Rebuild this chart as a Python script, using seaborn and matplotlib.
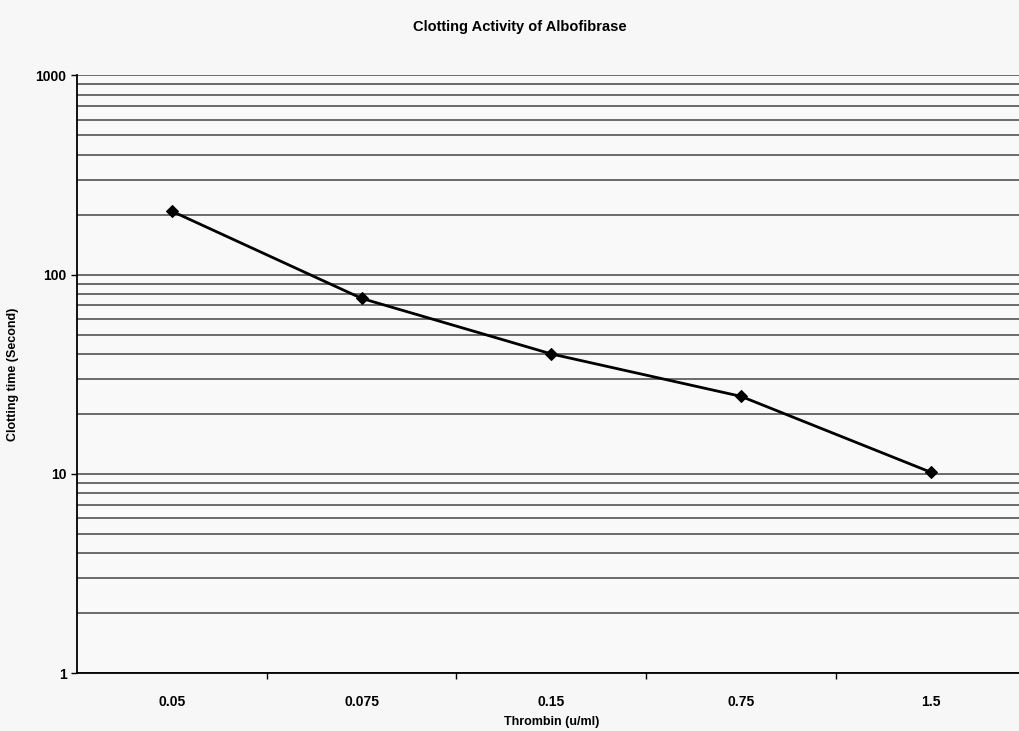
import matplotlib
matplotlib.use("Agg")
import matplotlib.pyplot as plt
import seaborn as sns
import pandas as pd

# data
thrombin = ["0.05", "0.075", "0.15", "0.75", "1.5"]
clot_time = [208, 76, 40, 24.5, 10.2]

df = pd.DataFrame({"Thrombin": thrombin, "Time": clot_time})

sns.set_style("white")
plt.rcParams['font.family'] = ['Liberation Sans', 'DejaVu Sans']
plt.rcParams.update({"text.color": "black", "axes.labelcolor": "black",
                     "xtick.color": "black", "ytick.color": "black"})

fig = plt.figure(figsize=(10.2, 7.31), dpi=100, facecolor="#f7f7f7")
ax = fig.add_axes([0.0755, 0.079, 0.93, 0.818])
ax.set_facecolor("#f9f9f9")

sns.lineplot(data=df, x="Thrombin", y="Time", sort=False, color="black",
             marker="D", markersize=6, markeredgecolor="black",
             linewidth=2, ax=ax)

ax.set_yscale("log")
ax.set_ylim(1, 1000)
ax.set_xlim(-0.5, 4.5)
ax.set_yticks([1, 10, 100, 1000])
ax.set_yticklabels(["1", "10", "100", "1000"])
ax.minorticks_on()
ax.tick_params(axis="y", which="minor", left=False)
ax.tick_params(axis="y", which="major", left=True, length=4, width=1, labelsize=10)
ax.tick_params(axis="x", which="both", bottom=False, labelsize=10)
ax.set_xticks(range(len(thrombin)))
ax.set_xticklabels(thrombin)
ax.set_xticks([0.5, 1.5, 2.5, 3.5], minor=True)
ax.tick_params(axis="x", which="minor", bottom=True, length=4, width=1)
for lab in ax.get_xticklabels() + ax.get_yticklabels():
    lab.set_fontweight("bold")
ax.tick_params(axis="x", pad=12)

ax.grid(True, axis="y", which="both", color="#444444", linewidth=1.1)
ax.grid(False, axis="x", which="both")

for side in ["top", "right"]:
    ax.spines[side].set_visible(False)
ax.spines["left"].set_color("black")
ax.spines["bottom"].set_color("black")
ax.spines["left"].set_linewidth(1.3)
ax.spines["bottom"].set_linewidth(1.3)

ax.set_xlabel("Thrombin (u/ml)", fontsize=9, fontweight="bold", labelpad=5)
ax.set_ylabel("Clotting time (Second)", fontsize=9, fontweight="bold", labelpad=12)
fig.text(0.51, 0.957, "Clotting Activity of Albofibrase", ha="center",
         fontsize=10.5, fontweight="bold", color="black")

fig.savefig("out.png", dpi=100, facecolor=fig.get_facecolor())
